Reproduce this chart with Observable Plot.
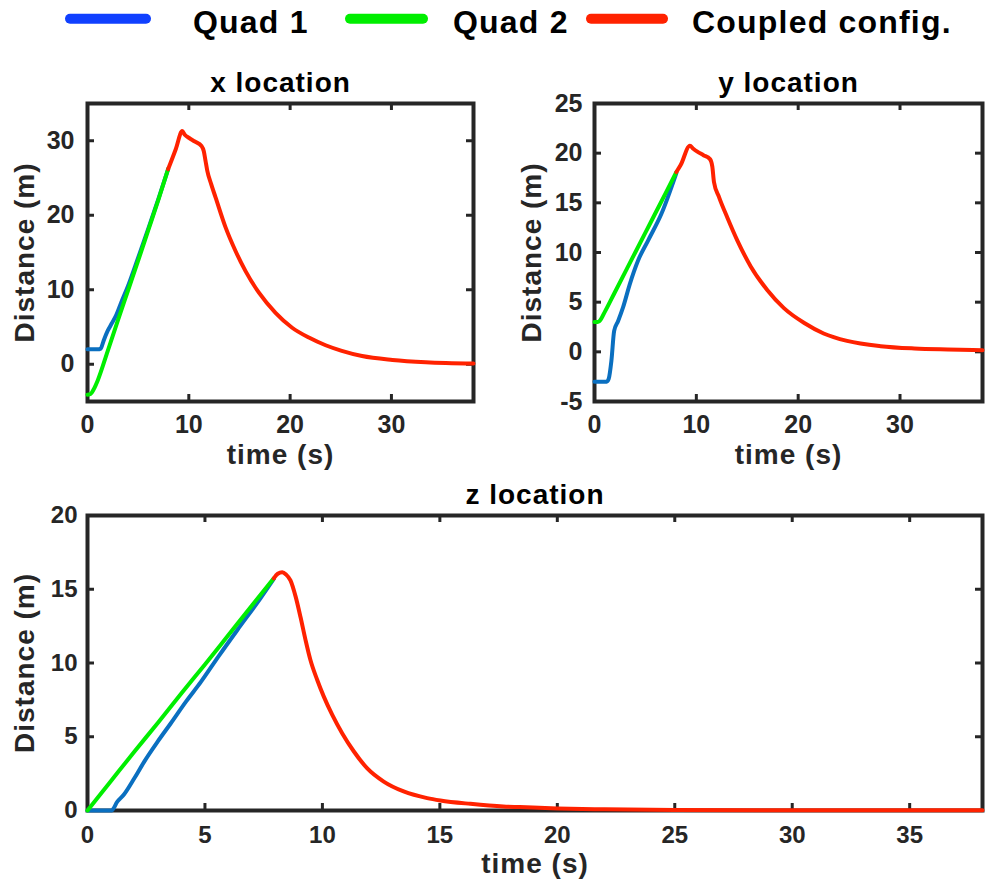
<!DOCTYPE html>
<html><head><meta charset="utf-8">
<script src="https://cdn.jsdelivr.net/npm/d3@7"></script>
<script src="https://cdn.jsdelivr.net/npm/@observablehq/plot@0.6"></script>
<style>
body{margin:0;background:#fff;}
#root{position:relative;width:985px;height:884px;overflow:hidden;font-family:"Liberation Sans",Arial,sans-serif;background:#fff;}
.panel{position:absolute;}
#root svg g[aria-label="text"] text{letter-spacing:1px;}
</style></head><body><div id="root"></div>
<script>
// ---------- data ----------
const seriesNames = ["Quad 1", "Quad 2", "Coupled config."];
const legendColors = ["#1040ff", "#00ee00", "#ff2200"];
const lineColors = ["#0a6fc0", "#00ee00", "#ff2200"];
const timeDomain = [0, 38.1];

// x location
const xQ1Time = [0, 0.5, 1.0, 1.3, 1.6, 2.0, 2.4, 2.8, 3.3, 4.0, 5.0, 6.0, 7.0, 7.96];
const xQ1Dist = [2, 2, 2, 2.1, 3.2, 4.5, 5.5, 6.5, 8.2, 10.5, 14.3, 18.2, 22.2, 26.2];
const xQ2Time = [0, 0.3, 0.6, 1.0, 2.0, 3.0, 4.0, 5.0, 6.0, 7.0, 7.96];
const xQ2Dist = [-4.1, -4.0, -3.4, -2.2, 1.8, 5.9, 9.9, 13.9, 18.0, 22.1, 26.2];
const xCpTime = [7.96, 8.72, 9.35, 9.6, 10.0, 10.6, 11.25, 11.48, 11.65, 11.82, 12.2, 12.64, 13.62, 14.61, 15.6, 16.92, 18.56, 20.2, 21.85, 23.5, 25.1, 27.1, 30.1, 33.4, 38.1];
const xCpDist = [26.2, 28.9, 31.3, 30.8, 30.4, 29.9, 29.3, 28.6, 27.3, 26.0, 24.2, 22.4, 18.4, 15.2, 12.5, 9.6, 6.9, 4.9, 3.58, 2.55, 1.8, 1.1, 0.58, 0.27, 0.1];

// y location
const yQ1Time = [0, 0.6, 1.2, 1.4, 1.66, 1.93, 2.32, 2.81, 3.46, 4.28, 5.26, 6.57, 8.04];
const yQ1Dist = [-3, -3, -3, -2.7, -0.9, 2.1, 3.1, 4.5, 6.8, 9.2, 11.2, 13.9, 18.0];
const yQ2Time = [0, 0.3, 0.5, 1.0, 2.0, 3.0, 4.0, 5.0, 6.0, 7.0, 8.04];
const yQ2Dist = [3, 3, 3.1, 4.0, 6.0, 8.0, 10.0, 12.0, 14.0, 16.0, 18.1];
const yCpTime = [8.04, 8.46, 9.37, 9.7, 10.1, 10.7, 11.34, 11.57, 11.73, 12.22, 13.05, 14.03, 15.34, 16.98, 18.6, 20.6, 22.5, 24.8, 28.1, 31.4, 34.7, 38.1];
const yCpDist = [18.1, 18.8, 20.75, 20.45, 20.15, 19.8, 19.4, 18.65, 17.1, 15.6, 13.5, 11.2, 8.6, 6.2, 4.4, 2.9, 1.85, 1.1, 0.57, 0.34, 0.24, 0.17];

// z location
const zQ1Time = [0, 0.5, 1.02, 1.27, 1.56, 2.0, 2.41, 3.0, 3.54, 4.2, 4.82, 5.6, 6.38, 7.37, 7.93];
const zQ1Dist = [0, 0, 0, 0.6, 1.1, 2.2, 3.3, 4.7, 5.9, 7.4, 8.7, 10.5, 12.24, 14.4, 15.7];
const zQ2Time = [0, 1, 2, 3, 4, 5, 6, 7, 7.93];
const zQ2Dist = [0, 2.0, 4.0, 5.95, 7.95, 9.9, 11.9, 13.9, 15.74];
const zCpTime = [7.93, 8.1, 8.29, 8.45, 8.64, 8.86, 9.07, 9.28, 9.49, 9.78, 10.06, 10.42, 10.84, 11.34, 11.9, 12.61, 13.46, 14.46, 15.02, 16.3, 17.7, 18.4, 20, 22, 25, 30, 35, 38.1];
const zCpDist = [15.74, 16.05, 16.15, 16.0, 15.6, 14.5, 13.1, 11.57, 10.2, 8.85, 7.72, 6.48, 5.24, 4.0, 2.87, 1.96, 1.29, 0.84, 0.68, 0.45, 0.27, 0.23, 0.14, 0.08, 0.04, 0.02, 0.01, 0.01];

// ticks
const topTimeTicks = [0, 10, 20, 30];
const xLocTicks = [0, 10, 20, 30];
const yLocTicks = [-5, 0, 5, 10, 15, 20, 25];
const zTimeTicks = [0, 5, 10, 15, 20, 25, 30, 35];
const zLocTicks = [0, 5, 10, 15, 20];

const titles = ["x location", "y location", "z location"];
const xLabel = "time (s)";
const yLabel = "Distance (m)";

// ---------- drawing ----------
const ink = "#262626";
const FONT = "'Liberation Sans', Arial, sans-serif";

function panel(o) {
  const [mt, mr, mb, ml] = o.margins;
  const innerW = o.width - ml - mr, innerH = o.height - mt - mb;
  const tk = 7;
  const marks = [];
  // inward ticks on all four sides
  marks.push(Plot.ruleX(o.xTicks, {x: d => d, insetTop: innerH - tk, stroke: ink, strokeWidth: 3}));
  marks.push(Plot.ruleX(o.xTicks, {x: d => d, insetBottom: innerH - tk, stroke: ink, strokeWidth: 3}));
  marks.push(Plot.ruleY(o.yTicks, {y: d => d, insetRight: innerW - tk, stroke: ink, strokeWidth: 3}));
  marks.push(Plot.ruleY(o.yTicks, {y: d => d, insetLeft: innerW - tk, stroke: ink, strokeWidth: 3}));
  marks.push(Plot.frame({stroke: ink, strokeWidth: 4}));
  o.series.forEach(([T, V, color]) => {
    marks.push(Plot.line(T.map((t, i) => ({t, v: V[i]})), {
      x: "t", y: "v", stroke: color, strokeWidth: 4, strokeLinejoin: "round", curve: "monotone-x"
    }));
  });
  marks.push(Plot.axisX(o.xTicks, {tickSize: 0, tickPadding: o.padX, fontSize: o.fs, fontWeight: "bold", fill: ink, label: null, tickFormat: d => String(d)}));
  marks.push(Plot.axisY(o.yTicks, {tickSize: 0, tickPadding: o.padY, fontSize: o.fs, fontWeight: "bold", fill: ink, label: null, tickFormat: d => String(d)}));
  marks.push(Plot.text([o.title], {frameAnchor: "top", dy: -12, lineAnchor: "bottom", fontSize: 28, fontWeight: "bold", fill: "#000"}));
  marks.push(Plot.text([xLabel], {frameAnchor: "bottom", dy: 62, lineAnchor: "bottom", textAnchor: "middle", fontSize: 28, fontWeight: "bold", fill: ink}));
  marks.push(Plot.text([yLabel], {frameAnchor: "left", dx: -62, rotate: -90, textAnchor: "middle", lineAnchor: "middle", fontSize: 28, fontWeight: "bold", fill: ink}));
  const svg = Plot.plot({
    width: o.width, height: o.height,
    marginTop: mt, marginRight: mr, marginBottom: mb, marginLeft: ml,
    x: {domain: timeDomain, label: null},
    y: {domain: o.yDomain, label: null},
    style: {fontFamily: FONT, background: "transparent", overflow: "visible"},
    marks
  });
  const div = document.createElement("div");
  div.className = "panel";
  div.style.left = o.left + "px";
  div.style.top = o.top + "px";
  div.appendChild(svg);
  return div;
}

const root = document.getElementById("root");

root.appendChild(panel({
  left: 0, top: 60, width: 490, height: 420, margins: [43, 17, 79, 87],
  title: titles[0], xTicks: topTimeTicks, yTicks: xLocTicks, yDomain: [-5, 35],
  fs: 25, padX: 14, padY: 13,
  series: [[xQ1Time, xQ1Dist, lineColors[0]], [xQ2Time, xQ2Dist, lineColors[1]], [xCpTime, xCpDist, lineColors[2]]]
}));
root.appendChild(panel({
  left: 490, top: 60, width: 495, height: 420, margins: [43, 3, 79, 104],
  title: titles[1], xTicks: topTimeTicks, yTicks: yLocTicks, yDomain: [-5, 25],
  fs: 25, padX: 14, padY: 12,
  series: [[yQ1Time, yQ1Dist, lineColors[0]], [yQ2Time, yQ2Dist, lineColors[1]], [yCpTime, yCpDist, lineColors[2]]]
}));
root.appendChild(panel({
  left: 0, top: 470, width: 985, height: 414, margins: [45, 3, 74, 87],
  title: titles[2], xTicks: zTimeTicks, yTicks: zLocTicks, yDomain: [0, 20],
  fs: 24, padX: 15, padY: 10,
  series: [[zQ1Time, zQ1Dist, lineColors[0]], [zQ2Time, zQ2Dist, lineColors[1]], [zCpTime, zCpDist, lineColors[2]]]
}));

// legend
const legendSwatchX = [[70, 146], [350, 423], [591, 663]];
const legendTextX = [193, 453, 692];
const lg = d3.create("svg").attr("width", 985).attr("height", 48)
  .style("position", "absolute").style("left", "0px").style("top", "0px");
seriesNames.forEach((name, i) => {
  lg.append("line").attr("x1", legendSwatchX[i][0]).attr("x2", legendSwatchX[i][1])
    .attr("y1", 18.7).attr("y2", 18.7)
    .attr("stroke", legendColors[i]).attr("stroke-width", 10).attr("stroke-linecap", "round");
  lg.append("text").attr("x", legendTextX[i]).attr("y", 33)
    .attr("font-family", FONT).attr("font-weight", "bold").attr("font-size", 32)
    .attr("letter-spacing", "1.2px").attr("fill", "#000").text(name);
});
root.appendChild(lg.node());
</script></body></html>
